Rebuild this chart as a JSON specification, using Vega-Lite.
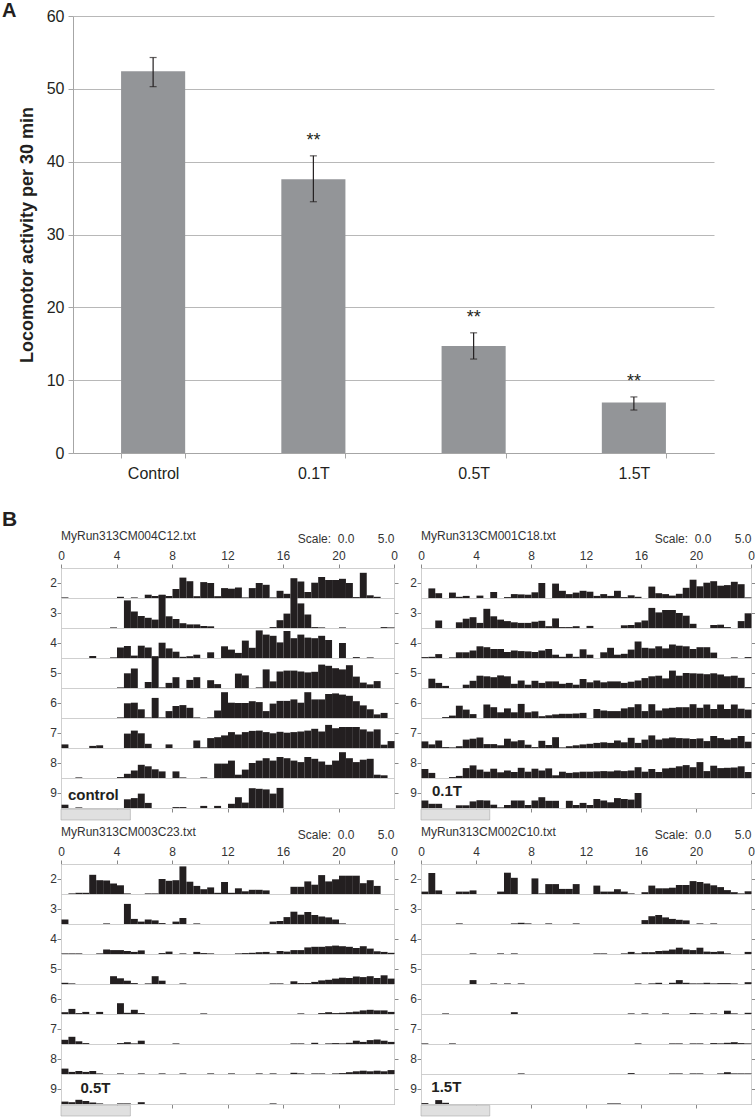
{
"$schema":"https://vega.github.io/schema/vega-lite/v6.json",
"padding":{"left":2,"top":1,"right":0,"bottom":0},
"background":"white",
"config":{"font":"Liberation Sans","view":{"stroke":"#cfcfcf"},"title":{"font":"Liberation Sans"}},
"spacing":28,
"vconcat":[
{
"width":653,"height":437,
"view":{"stroke":null},
"title":{"text":"A","anchor":"start","frame":"group","dx":-59,"fontSize":20,"fontWeight":"bold","offset":-13,"color":"#231f20"},
"data":{"values":[
{"g":"Control","m":52.4,"lo":50.3,"hi":54.3,"s":""},
{"g":"0.1T","m":37.6,"lo":34.5,"hi":40.8,"s":"**"},
{"g":"0.5T","m":14.7,"lo":12.9,"hi":16.5,"s":"**"},
{"g":"1.5T","m":6.95,"lo":5.9,"hi":7.7,"s":"**"}]},
"encoding":{"x":{"field":"g","type":"nominal","sort":null,"scale":{"range":[12,653],"paddingInner":0.6,"paddingOuter":0.3},
"axis":{"title":null,"labelAngle":0,"labelFontSize":16,"labelColor":"#231f20","labelPadding":7,"tickBand":"extent","tickSize":5,"tickColor":"#a6a6a6","domainColor":"#a6a6a6","grid":false}}},
"layer":[
{"mark":{"type":"bar","color":"#939598"},
"encoding":{"y":{"field":"m","type":"quantitative","scale":{"domain":[0,60],"nice":false},
"axis":{"title":"Locomotor activity per 30 min","titleFontSize":18,"titleFontWeight":"bold","titleColor":"#231f20","titlePadding":10,"values":[0,10,20,30,40,50,60],"labelFontSize":16,"labelColor":"#231f20","labelPadding":4,"tickSize":5,"tickColor":"#a6a6a6","domainColor":"#a6a6a6","grid":true,"gridColor":"#b8b8b8","offset":-12}}}},
{"mark":{"type":"rule","color":"#231f20","strokeWidth":1.2},"encoding":{"y":{"field":"lo","type":"quantitative"},"y2":{"field":"hi"}}},
{"mark":{"type":"tick","color":"#231f20","size":7,"thickness":1.2},"encoding":{"y":{"field":"lo","type":"quantitative"}}},
{"mark":{"type":"tick","color":"#231f20","size":7,"thickness":1.2},"encoding":{"y":{"field":"hi","type":"quantitative"}}},
{"mark":{"type":"text","fontSize":18,"dy":-15,"color":"#231f20"},"encoding":{"y":{"field":"hi","type":"quantitative"},"text":{"field":"s"}}}
]
},
{"spacing":5,"vconcat":[
{"title":{"text":"B","anchor":"start","frame":"group","dx":-59,"fontSize":21,"fontWeight":"bold","color":"#231f20","offset":0},
"spacing":11,
"hconcat":[
{
"data":{"values":"d,h,v,n\n2,0,0.1\n2,4,0.2\n2,5,0.1\n2,6,0.55\n2,6.5,0.33\n2,7,0.55\n2,7.5,0.33\n2,8,1.5\n2,8.5,3.4\n2,9,2.8\n2,9.5,0.3\n2,10,2.65\n2,10.5,2.5\n2,11,0.3\n2,11.5,1.65\n2,12,1.55\n2,12.5,1.75\n2,13,0.1\n2,13.5,1.65\n2,14,2.5\n2,14.5,2.2\n2,15,0.1\n2,15.5,1.2\n2,16,0.7\n2,16.5,3.3\n2,17,2.75\n2,17.5,1\n2,18,2.55\n2,18.5,3.5\n2,19,3\n2,19.5,3\n2,20,3.2\n2,20.5,2.5\n2,21,0.15\n2,21.5,4.2\n2,22,0.45\n2,22.5,0.2\n3,3.5,0.1\n3,4.5,4.6\n3,5,2.75\n3,5.5,2\n3,6,1.7\n3,6.5,1.4\n3,7,5.5\n3,7.5,1.95\n3,8,1.5\n3,8.5,0.8\n3,9,0.6\n3,9.5,0.6\n3,10,0.33\n3,10.5,0.28\n3,15,0.15\n3,15.5,1.3\n3,16,2.4\n3,16.5,5\n3,17,4.1\n3,17.5,2.25\n3,18,0.15\n3,18.5,0.1\n3,20,0.1\n3,23,0.15\n3,23.5,0.1\n4,2,0.33\n4,3.5,0.1\n4,4,1.75\n4,4.5,2\n4,5,0.4\n4,5.5,2.05\n4,6,1.75\n4,6.5,0.3\n4,7,2.55\n4,7.5,1.6\n4,8,1.05\n4,8.5,0.2\n4,9,0.3\n4,9.5,0.55\n4,10.5,0.95\n4,11.5,1.95\n4,12,1.4\n4,12.5,0.85\n4,13,2.9\n4,13.5,1.7\n4,14,4.6\n4,14.5,3.9\n4,15,3.7\n4,15.5,2.6\n4,16,4.5\n4,16.5,3.3\n4,17,3.9\n4,17.5,3.4\n4,18,3.3\n4,18.5,3.7\n4,19,3\n4,20,2.5\n4,21,0.15\n4,22,0.1\n5,4,0.1\n5,4.5,2.45\n5,5,3.25\n5,6,1\n5,6.5,5.2\n5,7,0.1\n5,7.5,0.85\n5,8,1.8\n5,9,1.35\n5,9.5,1.8\n5,10.5,1.3\n5,11,0.65\n5,12.5,2.4\n5,13,2.1\n5,14,0.1\n5,14.5,3.1\n5,15,1.1\n5,15.5,2.75\n5,16,2.9\n5,16.5,2.9\n5,17,2.75\n5,17.5,2.6\n5,18,2.7\n5,18.5,3.9\n5,19,3.7\n5,19.5,3.3\n5,20,3.1\n5,20.5,3.8\n5,21,1.9\n5,21.5,0.9\n5,22,0.6\n5,22.5,1.15\n6,4,0.1\n6,4.5,2.45\n6,5,2.55\n6,5.5,1.45\n6,6,0.1\n6,6.5,3.35\n6,7,0.1\n6,7.5,1.15\n6,8,2\n6,8.5,2.15\n6,9,1.7\n6,9.5,0.1\n6,10.5,0.1\n6,11,1.25\n6,11.5,4.3\n6,12,2.55\n6,12.5,2.5\n6,13,2.5\n6,13.5,2.8\n6,14,2.65\n6,14.5,1.15\n6,15,2.4\n6,15.5,2.85\n6,16,2.85\n6,16.5,3.1\n6,17,2.55\n6,17.5,4.3\n6,18,3.1\n6,18.5,3.1\n6,19,4\n6,19.5,4.1\n6,20,3.9\n6,20.5,3.7\n6,21,2.8\n6,21.5,2.1\n6,22,1.45\n6,22.5,0.6\n6,23,0.85\n7,0,0.6\n7,2,0.35\n7,2.5,0.45\n7,4.5,2.4\n7,5,2.9\n7,5.5,2.45\n7,6,0.7\n7,7.5,0.6\n7,9.5,1.25\n7,10,0.1\n7,10.5,1.65\n7,11,1.8\n7,11.5,2.1\n7,12,2.65\n7,12.5,2.25\n7,13,2.65\n7,13.5,2.85\n7,14,2.9\n7,14.5,2.65\n7,15,2.45\n7,15.5,2.7\n7,16,2.55\n7,16.5,2.65\n7,17,2.75\n7,17.5,2.9\n7,18,3.2\n7,18.5,2.75\n7,19,3.85\n7,19.5,3.3\n7,20,3.5\n7,20.5,3.5\n7,21,3.5\n7,21.5,3.1\n7,22,2.75\n7,22.5,3.1\n7,23,0.55\n7,23.5,1.15\n8,1,0.1\n8,4,0.15\n8,4.5,0.7\n8,5,1.25\n8,5.5,2.2\n8,6,1.95\n8,6.5,1.45\n8,7,1.1\n8,8,1.1\n8,8.5,0.1\n8,10,0.1\n8,11,2.4\n8,11.5,2.4\n8,12,2.9\n8,12.5,0.55\n8,13,1.4\n8,13.5,2.5\n8,14,2.9\n8,14.5,3.3\n8,15,2.9\n8,15.5,3.5\n8,16,3.3\n8,16.5,2.9\n8,17,2.65\n8,17.5,3.5\n8,18,3.2\n8,18.5,2.75\n8,19,2.2\n8,19.5,2.9\n8,20,4.3\n8,20.5,3.3\n8,21,2.65\n8,21.5,3.05\n8,22,3.2\n8,22.5,0.55\n8,23,0.45\n9,0,0.55\n9,1,0.1\n9,4.5,1.45\n9,5,1.65\n9,5.5,2.4\n9,6,0.85\n9,8,0.15\n9,8.5,0.15\n9,10,0.35\n9,11,0.35\n9,12,0.7\n9,12.5,1.8\n9,13,0.9\n9,13.5,3.3\n9,14,3.2\n9,14.5,3.1\n9,15,2.4\n9,15.5,3.35\n9,,,control","format":{"type":"csv","parse":{"d":"number","h":"number","v":"number"}}},
"title":{"text":"MyRun313CM004C12.txt","anchor":"start","frame":"group","fontSize":12,"fontWeight":"normal","color":"#333","offset":-11},
"facet":{"row":{"field":"d","type":"ordinal","header":{"title":null,"labelAngle":0,"labelAlign":"right","labelBaseline":"middle","labelPadding":-7,"labelFontSize":12,"labelColor":"#333"}}},
"spacing":{"row":0},
"bounds":"flush",
"spec":{"width":333,"height":30,
"layer":[
{"transform":[{"filter":"isValid(datum.v)"}],"mark":{"type":"bar","color":"#231f20","binSpacing":0},
"encoding":{"x":{"field":"h","type":"quantitative","bin":{"binned":true,"step":0.5},"scale":{"domain":[0,24],"nice":false,"zero":false},
"axis":{"orient":"top","values":[0,4,8,12,16,20,24],"labelExpr":"datum.value == 24 ? '0' : '' + datum.value","labelFlush":false,"labelFontSize":12,"labelColor":"#333","labelPadding":2,"tickSize":4,"tickColor":"#888","domainColor":"#888","grid":false,"title":"Scale:\u00a0\u00a00.0\u00a0\u00a0\u00a0\u00a0\u00a0\u00a0\u00a05.0","titleAnchor":"end","titleAlign":"right","titleFontSize":12,"titleFontWeight":"normal","titleColor":"#333","titlePadding":4}},
"y":{"field":"v","type":"quantitative","scale":{"domain":[0,5],"nice":false},"axis":{"orient":"left","values":[2.5],"labels":false,"tickSize":4,"tickColor":"#888","domainColor":"#888","grid":false,"title":null}}}},
{"transform":[{"filter":"datum.n"}],"mark":{"type":"text","align":"left","baseline":"middle","fontSize":15,"fontWeight":"bold","color":"#231f20"},
"encoding":{"x":{"datum":0.5,"type":"quantitative","axis":{"orient":"bottom","values":[4,8,12,16,20],"labels":false,"tickSize":4,"tickColor":"#888","domainColor":"#888","grid":false,"title":null}},
"y":{"datum":2.1,"type":"quantitative","axis":{"orient":"right","values":[2.5],"labels":false,"tickSize":4,"tickColor":"#888","domainColor":"#888","grid":false,"title":null}},
"text":{"field":"n"}}},
{"transform":[{"filter":"datum.n"}],"mark":{"type":"rect","color":"#e0e0e0","stroke":"#aaaaaa","strokeWidth":0.6},
"encoding":{"x":{"datum":0,"type":"quantitative","axis":null},"x2":{"datum":5},"y":{"datum":-0.2,"type":"quantitative","axis":null},"y2":{"datum":-2.0}}}
],
"resolve":{"axis":{"x":"independent","y":"independent"}}}
},
{
"data":{"values":"d,h,v,n\n2,0.5,1.6\n2,1,0.8\n2,2,0.9\n2,2.5,0.2\n2,3,0.35\n2,4,0.4\n2,5,1\n2,6,0.15\n2,6.5,0.65\n2,7,0.6\n2,7.5,0.55\n2,8,0.95\n2,8.5,2.5\n2,9.5,2.4\n2,10,1.2\n2,10.5,0.65\n2,11,0.9\n2,11.5,1.2\n2,12,1.05\n2,12.5,0.35\n2,13,0.65\n2,13.5,0.35\n2,14,1.2\n2,14.5,0.15\n2,15,0.45\n2,15.5,0.2\n2,16.5,1.9\n2,17,0.8\n2,17.5,0.65\n2,18,0.4\n2,18.5,0.7\n2,19,1.7\n2,19.5,3.05\n2,20,1.95\n2,20.5,2.55\n2,21,2.8\n2,21.5,2.05\n2,22,2.15\n2,22.5,2.7\n2,23,2.3\n2,23.5,0.1\n3,1,1.25\n3,2.5,0.95\n3,3,1.55\n3,3.5,1.8\n3,4,0.85\n3,4.5,3.2\n3,5,1.95\n3,5.5,1.4\n3,6,1.15\n3,6.5,0.95\n3,7,0.85\n3,7.5,0.85\n3,8,1.05\n3,8.5,1.2\n3,9,0.3\n3,9.5,1.6\n3,10,0.15\n3,10.5,0.15\n3,11,0.3\n3,12,0.35\n3,14.5,0.45\n3,15,0.5\n3,15.5,0.95\n3,16,1.25\n3,16.5,3.35\n3,17,2.6\n3,17.5,3\n3,18,3\n3,18.5,2.5\n3,19,2.05\n3,19.5,0.7\n3,21,0.5\n3,21.5,0.55\n3,22,0.15\n3,23,1.15\n3,23.5,2.45\n4,0,0.15\n4,0.5,0.2\n4,1,0.65\n4,2,0.1\n4,2.5,0.95\n4,3,0.95\n4,3.5,1.25\n4,4,1.95\n4,4.5,1.8\n4,5,1.5\n4,5.5,1.5\n4,6,1\n4,6.5,1.25\n4,7,1.15\n4,7.5,1.1\n4,8,1\n4,8.5,1.25\n4,9,1.5\n4,9.5,0.55\n4,10,0.2\n4,10.5,0.7\n4,11,0.2\n4,11.5,1.45\n4,12,0.55\n4,13,0.95\n4,13.5,1.7\n4,14,0.55\n4,14.5,0.7\n4,15,1.4\n4,15.5,2.75\n4,16,1.7\n4,16.5,1.6\n4,17,1.95\n4,17.5,1.6\n4,18,2.25\n4,18.5,2.05\n4,19,1.95\n4,19.5,1.5\n4,20,1.8\n4,20.5,1.8\n4,21,0.9\n4,22.5,0.1\n4,23.5,0.15\n5,0.5,1.55\n5,1,0.85\n5,1.5,0.35\n5,3,0.55\n5,3.5,1.2\n5,4,2.05\n5,4.5,1.95\n5,5,1.8\n5,5.5,2.1\n5,6,1.95\n5,6.5,0.7\n5,7,1.25\n5,7.5,0.55\n5,8,1.2\n5,8.5,0.85\n5,9,1.1\n5,9.5,1.1\n5,10,0.7\n5,10.5,0.85\n5,11,0.55\n5,11.5,1.5\n5,12,0.95\n5,12.5,1.25\n5,13,0.95\n5,13.5,1.1\n5,14,1.1\n5,14.5,0.85\n5,15,1.05\n5,15.5,1.25\n5,16,1.65\n5,16.5,1.95\n5,17,2.05\n5,17.5,1.6\n5,18,2.9\n5,18.5,2.05\n5,19,2.5\n5,19.5,2.45\n5,20,2.4\n5,20.5,2.3\n5,21,2.45\n5,21.5,2.25\n5,22,1.95\n5,22.5,2.05\n5,23,1.7\n5,23.5,0.15\n6,1.5,0.15\n6,2,0.4\n6,2.5,2.05\n6,3,1.4\n6,3.5,0.65\n6,4.5,2.25\n6,5,1.8\n6,5.5,0.95\n6,6,1.6\n6,6.5,0.95\n6,7,2.35\n6,7.5,0.95\n6,8,1.1\n6,8.5,0.3\n6,9,0.45\n6,9.5,0.6\n6,10,0.7\n6,10.5,0.7\n6,11,0.75\n6,11.5,0.85\n6,12.5,1.5\n6,13,1.25\n6,13.5,1.15\n6,14,1.15\n6,14.5,1.6\n6,15,1.8\n6,15.5,2.3\n6,16,1.15\n6,16.5,2.3\n6,17,1.25\n6,17.5,1.6\n6,18,1.7\n6,18.5,1.8\n6,19,1.8\n6,19.5,2.3\n6,20,1.7\n6,20.5,2.25\n6,21,1.5\n6,21.5,2.25\n6,22,1.5\n6,22.5,2.25\n6,23,1.55\n6,23.5,1.4\n7,0,1.1\n7,0.5,0.6\n7,1,1.25\n7,1.5,0.15\n7,2,0.1\n7,2.5,0.3\n7,3,1.4\n7,3.5,1.55\n7,4,1.75\n7,4.5,0.65\n7,5,0.65\n7,5.5,0.45\n7,6,1.55\n7,6.5,1.1\n7,7,1.3\n7,7.5,0.55\n7,8,0.15\n7,8.5,1.2\n7,9,0.5\n7,9.5,1.8\n7,10,0.1\n7,10.5,0.3\n7,11,0.45\n7,11.5,0.6\n7,12,0.7\n7,12.5,0.85\n7,13,0.95\n7,13.5,0.85\n7,14,1.25\n7,14.5,0.95\n7,15,1.7\n7,15.5,0.85\n7,16,1.4\n7,16.5,2.1\n7,17,1.4\n7,17.5,1.6\n7,18,1.75\n7,18.5,1.65\n7,19,1.6\n7,19.5,1.5\n7,20,1.6\n7,20.5,1.15\n7,21,2\n7,21.5,1.65\n7,22,1.4\n7,22.5,1.65\n7,23,2\n7,23.5,1.05\n8,0,1.5\n8,0.5,0.85\n8,2,0.15\n8,2.5,0.35\n8,3,1.65\n8,3.5,2.1\n8,4,1.4\n8,4.5,1.05\n8,5,1.55\n8,5.5,0.95\n8,6,1.25\n8,6.5,1\n8,7,1.7\n8,7.5,1.05\n8,8,1.55\n8,8.5,1.25\n8,9,1.6\n8,9.5,0.45\n8,10,1.05\n8,10.5,0.85\n8,11,0.95\n8,11.5,1.05\n8,12,1.05\n8,12.5,1.1\n8,13,1.15\n8,13.5,1.1\n8,14,1.25\n8,14.5,1.15\n8,15,1.25\n8,15.5,1.8\n8,16,1.05\n8,16.5,1.5\n8,17,1\n8,17.5,1.6\n8,18,1.7\n8,18.5,1.95\n8,19,2.15\n8,19.5,1.8\n8,20,2.65\n8,20.5,1.15\n8,21,2.05\n8,21.5,1.65\n8,22,1.7\n8,22.5,1.75\n8,23,1.95\n8,23.5,1\n9,0,1.25\n9,0.5,0.7\n9,1,0.7\n9,2.5,0.45\n9,3,0.45\n9,3.5,1.1\n9,4,1.3\n9,4.5,1.25\n9,5,0.55\n9,5.5,0.1\n9,6,0.5\n9,6.5,1.25\n9,7,1.25\n9,7.5,0.5\n9,8,1.25\n9,8.5,1.8\n9,9,1.2\n9,9.5,1.2\n9,10.5,1.2\n9,11,0.5\n9,11.5,0.85\n9,12,0.5\n9,12.5,1.5\n9,13,1.25\n9,13.5,0.95\n9,14,1.65\n9,14.5,1.5\n9,15,1.4\n9,15.5,2.5\n9,,,0.1T","format":{"type":"csv","parse":{"d":"number","h":"number","v":"number"}}},
"title":{"text":"MyRun313CM001C18.txt","anchor":"start","frame":"group","fontSize":12,"fontWeight":"normal","color":"#333","offset":-11},
"facet":{"row":{"field":"d","type":"ordinal","header":{"title":null,"labelAngle":0,"labelAlign":"right","labelBaseline":"middle","labelPadding":-7,"labelFontSize":12,"labelColor":"#333"}}},
"spacing":{"row":0},
"bounds":"flush",
"spec":{"width":330,"height":30,
"layer":[
{"transform":[{"filter":"isValid(datum.v)"}],"mark":{"type":"bar","color":"#231f20","binSpacing":0},
"encoding":{"x":{"field":"h","type":"quantitative","bin":{"binned":true,"step":0.5},"scale":{"domain":[0,24],"nice":false,"zero":false},
"axis":{"orient":"top","values":[0,4,8,12,16,20,24],"labelExpr":"datum.value == 24 ? '0' : '' + datum.value","labelFlush":false,"labelFontSize":12,"labelColor":"#333","labelPadding":2,"tickSize":4,"tickColor":"#888","domainColor":"#888","grid":false,"title":"Scale:\u00a0\u00a00.0\u00a0\u00a0\u00a0\u00a0\u00a0\u00a0\u00a05.0","titleAnchor":"end","titleAlign":"right","titleFontSize":12,"titleFontWeight":"normal","titleColor":"#333","titlePadding":4}},
"y":{"field":"v","type":"quantitative","scale":{"domain":[0,5],"nice":false},"axis":{"orient":"left","values":[2.5],"labels":false,"tickSize":4,"tickColor":"#888","domainColor":"#888","grid":false,"title":null}}}},
{"transform":[{"filter":"datum.n"}],"mark":{"type":"text","align":"left","baseline":"middle","fontSize":15,"fontWeight":"bold","color":"#231f20"},
"encoding":{"x":{"datum":0.8,"type":"quantitative","axis":{"orient":"bottom","values":[4,8,12,16,20],"labels":false,"tickSize":4,"tickColor":"#888","domainColor":"#888","grid":false,"title":null}},
"y":{"datum":2.8,"type":"quantitative","axis":{"orient":"right","values":[2.5],"labels":false,"tickSize":4,"tickColor":"#888","domainColor":"#888","grid":false,"title":null}},
"text":{"field":"n"}}},
{"transform":[{"filter":"datum.n"}],"mark":{"type":"rect","color":"#e0e0e0","stroke":"#aaaaaa","strokeWidth":0.6},
"encoding":{"x":{"datum":0,"type":"quantitative","axis":null},"x2":{"datum":5},"y":{"datum":-0.2,"type":"quantitative","axis":null},"y2":{"datum":-2.0}}}
],
"resolve":{"axis":{"x":"independent","y":"independent"}}}
}
]},
{"spacing":11,
"hconcat":[
{
"data":{"values":"d,h,v,n\n2,0.5,0.1\n2,1,0.2\n2,1.5,0.2\n2,2,3.2\n2,2.5,2.3\n2,3,2.25\n2,3.5,1.75\n2,4,1.45\n2,4.5,0.1\n2,6,0.1\n2,6.5,0.1\n2,7,2.5\n2,7.5,2.2\n2,8,2.3\n2,8.5,4.6\n2,9,2.05\n2,9.5,1.35\n2,10,0.8\n2,10.5,1.1\n2,11,0.2\n2,11.5,2\n2,12,0.2\n2,12.5,0.95\n2,13,0.45\n2,13.5,0.7\n2,14,0.7\n2,14.5,0.6\n2,16.5,1.2\n2,17,1.2\n2,17.5,2.1\n2,18,1.55\n2,18.5,3.15\n2,19,2.1\n2,19.5,2.45\n2,20,3.05\n2,20.5,3.05\n2,21,3.05\n2,21.5,1.8\n2,22,2.3\n2,22.5,1.35\n3,0,0.75\n3,3,0.1\n3,4.5,3.35\n3,5,0.85\n3,5.5,0.4\n3,6,0.75\n3,6.5,0.6\n3,7,0.15\n3,8,0.4\n3,8.5,1\n3,9.5,0.1\n3,15,0.4\n3,15.5,0.5\n3,16,1.15\n3,16.5,2.05\n3,17,1.55\n3,17.5,2\n3,18,1.5\n3,18.5,1.25\n3,19,1.1\n3,19.5,0.75\n3,20,0.1\n4,0,0.1\n4,0.5,0.1\n4,1,0.1\n4,2.5,0.1\n4,3,0.75\n4,3.5,0.65\n4,4,0.65\n4,4.5,0.5\n4,5,0.35\n4,5.5,0.6\n4,7,0.15\n4,7.5,0.4\n4,8.5,0.1\n4,9.5,0.35\n4,10,0.15\n4,10.5,0.1\n4,12.5,0.1\n4,13,0.15\n4,13.5,0.2\n4,14,0.3\n4,14.5,0.35\n4,15,0.1\n4,15.5,0.5\n4,16,0.4\n4,16.5,0.65\n4,17,0.65\n4,17.5,1.1\n4,18,1.2\n4,18.5,1.2\n4,19,1.3\n4,19.5,1.4\n4,20,1.3\n4,20.5,1.2\n4,21,1\n4,21.5,1.3\n4,22,0.9\n4,22.5,0.45\n4,23,0.35\n4,23.5,0.2\n5,0,0.2\n5,0.5,0.1\n5,3.5,1.3\n5,4,0.95\n5,4.5,0.55\n5,5,0.15\n5,6,0.1\n5,6.5,1.3\n5,7,0.55\n5,8.5,0.1\n5,15,0.1\n5,15.5,0.1\n5,16.5,0.45\n5,17,0.15\n5,17.5,0.15\n5,18,0.35\n5,18.5,0.6\n5,19,0.7\n5,19.5,0.9\n5,20,1.05\n5,20.5,1\n5,21,1.25\n5,21.5,1.15\n5,22,1.3\n5,22.5,1\n5,23,1.45\n5,23.5,0.9\n6,0,0.3\n6,0.5,0.85\n6,1,0.15\n6,1.5,0.35\n6,2.5,0.35\n6,4,1.8\n6,4.5,0.2\n6,5,0.7\n6,5.5,0.15\n6,10,0.1\n6,17,0.1\n6,18.5,0.15\n6,19,0.3\n6,19.5,0.15\n6,20,0.2\n6,20.5,0.3\n6,21,0.4\n6,21.5,0.6\n6,22,0.7\n6,22.5,0.6\n6,23,0.6\n6,23.5,0.35\n7,0,0.7\n7,0.5,1.2\n7,1,0.45\n7,1.5,0.15\n7,4,0.15\n7,4.5,0.3\n7,5,0.1\n7,5.5,0.55\n7,8,0.1\n7,16.5,0.1\n7,17,0.1\n7,18,0.2\n7,19,0.1\n7,19.5,0.15\n7,20,0.1\n7,20.5,0.2\n7,21,0.55\n7,21.5,0.35\n7,22,0.65\n7,22.5,0.75\n7,23,0.55\n7,23.5,0.35\n8,0,0.9\n8,0.5,0.35\n8,1,0.5\n8,1.5,0.35\n8,2,0.5\n8,2.5,0.1\n8,4,0.1\n8,5.5,0.1\n8,7,0.1\n8,8.5,0.1\n8,10.5,0.1\n8,12,0.1\n8,14,0.1\n8,15,0.1\n8,16.5,0.2\n8,17,0.1\n8,18,0.1\n8,18.5,0.1\n8,19.5,0.1\n8,20,0.15\n8,20.5,0.3\n8,21,0.45\n8,21.5,0.55\n8,22,0.45\n8,22.5,0.55\n8,23,0.45\n8,23.5,0.65\n9,0,0.4\n9,0.5,0.3\n9,1,0.7\n9,1.5,0.5\n9,2,0.25\n9,2.5,0.1\n9,4,0.1\n9,4.5,0.1\n9,5.5,0.3\n9,15,0.1\n9,,,0.5T","format":{"type":"csv","parse":{"d":"number","h":"number","v":"number"}}},
"title":{"text":"MyRun313CM003C23.txt","anchor":"start","frame":"group","fontSize":12,"fontWeight":"normal","color":"#333","offset":-11},
"facet":{"row":{"field":"d","type":"ordinal","header":{"title":null,"labelAngle":0,"labelAlign":"right","labelBaseline":"middle","labelPadding":-7,"labelFontSize":12,"labelColor":"#333"}}},
"spacing":{"row":0},
"bounds":"flush",
"spec":{"width":333,"height":30,
"layer":[
{"transform":[{"filter":"isValid(datum.v)"}],"mark":{"type":"bar","color":"#231f20","binSpacing":0},
"encoding":{"x":{"field":"h","type":"quantitative","bin":{"binned":true,"step":0.5},"scale":{"domain":[0,24],"nice":false,"zero":false},
"axis":{"orient":"top","values":[0,4,8,12,16,20,24],"labelExpr":"datum.value == 24 ? '0' : '' + datum.value","labelFlush":false,"labelFontSize":12,"labelColor":"#333","labelPadding":2,"tickSize":4,"tickColor":"#888","domainColor":"#888","grid":false,"title":"Scale:\u00a0\u00a00.0\u00a0\u00a0\u00a0\u00a0\u00a0\u00a0\u00a05.0","titleAnchor":"end","titleAlign":"right","titleFontSize":12,"titleFontWeight":"normal","titleColor":"#333","titlePadding":4}},
"y":{"field":"v","type":"quantitative","scale":{"domain":[0,5],"nice":false},"axis":{"orient":"left","values":[2.5],"labels":false,"tickSize":4,"tickColor":"#888","domainColor":"#888","grid":false,"title":null}}}},
{"transform":[{"filter":"datum.n"}],"mark":{"type":"text","align":"left","baseline":"middle","fontSize":15,"fontWeight":"bold","color":"#231f20"},
"encoding":{"x":{"datum":1.4,"type":"quantitative","axis":{"orient":"bottom","values":[4,8,12,16,20],"labels":false,"tickSize":4,"tickColor":"#888","domainColor":"#888","grid":false,"title":null}},
"y":{"datum":2.6,"type":"quantitative","axis":{"orient":"right","values":[2.5],"labels":false,"tickSize":4,"tickColor":"#888","domainColor":"#888","grid":false,"title":null}},
"text":{"field":"n"}}},
{"transform":[{"filter":"datum.n"}],"mark":{"type":"rect","color":"#e0e0e0","stroke":"#aaaaaa","strokeWidth":0.6},
"encoding":{"x":{"datum":0,"type":"quantitative","axis":null},"x2":{"datum":5},"y":{"datum":-0.2,"type":"quantitative","axis":null},"y2":{"datum":-2.0}}}
],
"resolve":{"axis":{"x":"independent","y":"independent"}}}
},
{
"data":{"values":"d,h,v,n\n2,0,0.4\n2,0.5,3.5\n2,1,0.6\n2,2.5,0.4\n2,3,0.4\n2,3.5,0.6\n2,5.5,0.4\n2,6,3.55\n2,6.5,2.7\n2,8,2.6\n2,8.5,0.1\n2,9,1.65\n2,9.5,1.65\n2,10,0.85\n2,10.5,0.85\n2,11,1.65\n2,12.5,1.4\n2,13,0.4\n2,13.5,0.4\n2,14,0.8\n2,14.5,0.4\n2,15,0.1\n2,16,0.3\n2,16.5,1.4\n2,17,0.95\n2,17.5,0.95\n2,18,1.05\n2,18.5,1.5\n2,19,1.5\n2,19.5,2.15\n2,20,2\n2,20.5,1.75\n2,21,1.45\n2,21.5,1.15\n2,22,0.65\n2,22.5,0.3\n2,23,0.1\n2,23.5,0.45\n3,2.5,0.1\n3,6.5,0.1\n3,7,0.2\n3,7.5,0.1\n3,9,0.1\n3,11,0.1\n3,16,0.65\n3,16.5,1.3\n3,17,1.5\n3,17.5,1.1\n3,18,0.85\n3,18.5,0.7\n3,19,0.6\n3,20,0.1\n3,21,0.1\n4,3.5,0.1\n4,5.5,0.1\n4,6.5,0.1\n4,12.5,0.1\n4,13,0.1\n4,14.5,0.1\n4,15,0.35\n4,15.5,0.1\n4,16,0.3\n4,16.5,0.3\n4,17,0.5\n4,17.5,0.55\n4,18,0.75\n4,18.5,1.05\n4,19,0.75\n4,19.5,0.65\n4,20,1.05\n4,20.5,0.4\n4,21,0.35\n4,21.5,0.45\n4,22,0.1\n4,23.5,0.35\n5,3.5,0.65\n5,5,0.1\n5,6,0.1\n5,7,0.1\n5,15.5,0.1\n5,16.5,0.1\n5,17,0.2\n5,18,0.2\n5,18.5,0.65\n5,19,0.2\n5,19.5,0.1\n5,20,0.1\n5,20.5,0.2\n5,21,0.1\n5,21.5,0.15\n5,22,0.15\n5,22.5,0.1\n5,23.5,0.3\n6,1.5,0.1\n6,6.5,0.3\n6,15,0.1\n6,16,0.1\n6,17.5,0.1\n6,19.5,0.15\n6,20,0.1\n6,21,0.1\n6,22,0.55\n6,22.5,0.1\n6,23.5,0.2\n7,0,0.1\n7,2,0.1\n7,15.5,0.1\n7,18,0.1\n7,18.5,0.1\n7,19.5,0.1\n7,20,0.1\n7,21,0.15\n7,21.5,0.1\n7,22,0.2\n7,22.5,0.3\n7,23,0.15\n7,23.5,0.1\n8,7,0.1\n8,15,0.15\n8,18,0.1\n8,18.5,0.1\n8,19.5,0.1\n8,20,0.1\n8,21.5,0.1\n8,22,0.3\n8,22.5,0.1\n8,23,0.1\n8,23.5,0.1\n9,0,0.15\n9,1,0.65\n9,1.5,0.2\n9,13.5,0.1\n9,14,0.1\n9,,,1.5T","format":{"type":"csv","parse":{"d":"number","h":"number","v":"number"}}},
"title":{"text":"MyRun313CM002C10.txt","anchor":"start","frame":"group","fontSize":12,"fontWeight":"normal","color":"#333","offset":-11},
"facet":{"row":{"field":"d","type":"ordinal","header":{"title":null,"labelAngle":0,"labelAlign":"right","labelBaseline":"middle","labelPadding":-7,"labelFontSize":12,"labelColor":"#333"}}},
"spacing":{"row":0},
"bounds":"flush",
"spec":{"width":330,"height":30,
"layer":[
{"transform":[{"filter":"isValid(datum.v)"}],"mark":{"type":"bar","color":"#231f20","binSpacing":0},
"encoding":{"x":{"field":"h","type":"quantitative","bin":{"binned":true,"step":0.5},"scale":{"domain":[0,24],"nice":false,"zero":false},
"axis":{"orient":"top","values":[0,4,8,12,16,20,24],"labelExpr":"datum.value == 24 ? '0' : '' + datum.value","labelFlush":false,"labelFontSize":12,"labelColor":"#333","labelPadding":2,"tickSize":4,"tickColor":"#888","domainColor":"#888","grid":false,"title":"Scale:\u00a0\u00a00.0\u00a0\u00a0\u00a0\u00a0\u00a0\u00a0\u00a05.0","titleAnchor":"end","titleAlign":"right","titleFontSize":12,"titleFontWeight":"normal","titleColor":"#333","titlePadding":4}},
"y":{"field":"v","type":"quantitative","scale":{"domain":[0,5],"nice":false},"axis":{"orient":"left","values":[2.5],"labels":false,"tickSize":4,"tickColor":"#888","domainColor":"#888","grid":false,"title":null}}}},
{"transform":[{"filter":"datum.n"}],"mark":{"type":"text","align":"left","baseline":"middle","fontSize":15,"fontWeight":"bold","color":"#231f20"},
"encoding":{"x":{"datum":0.75,"type":"quantitative","axis":{"orient":"bottom","values":[4,8,12,16,20],"labels":false,"tickSize":4,"tickColor":"#888","domainColor":"#888","grid":false,"title":null}},
"y":{"datum":2.9,"type":"quantitative","axis":{"orient":"right","values":[2.5],"labels":false,"tickSize":4,"tickColor":"#888","domainColor":"#888","grid":false,"title":null}},
"text":{"field":"n"}}},
{"transform":[{"filter":"datum.n"}],"mark":{"type":"rect","color":"#e0e0e0","stroke":"#aaaaaa","strokeWidth":0.6},
"encoding":{"x":{"datum":0,"type":"quantitative","axis":null},"x2":{"datum":5},"y":{"datum":-0.2,"type":"quantitative","axis":null},"y2":{"datum":-2.0}}}
],
"resolve":{"axis":{"x":"independent","y":"independent"}}}
}
]}
]}
]
}
